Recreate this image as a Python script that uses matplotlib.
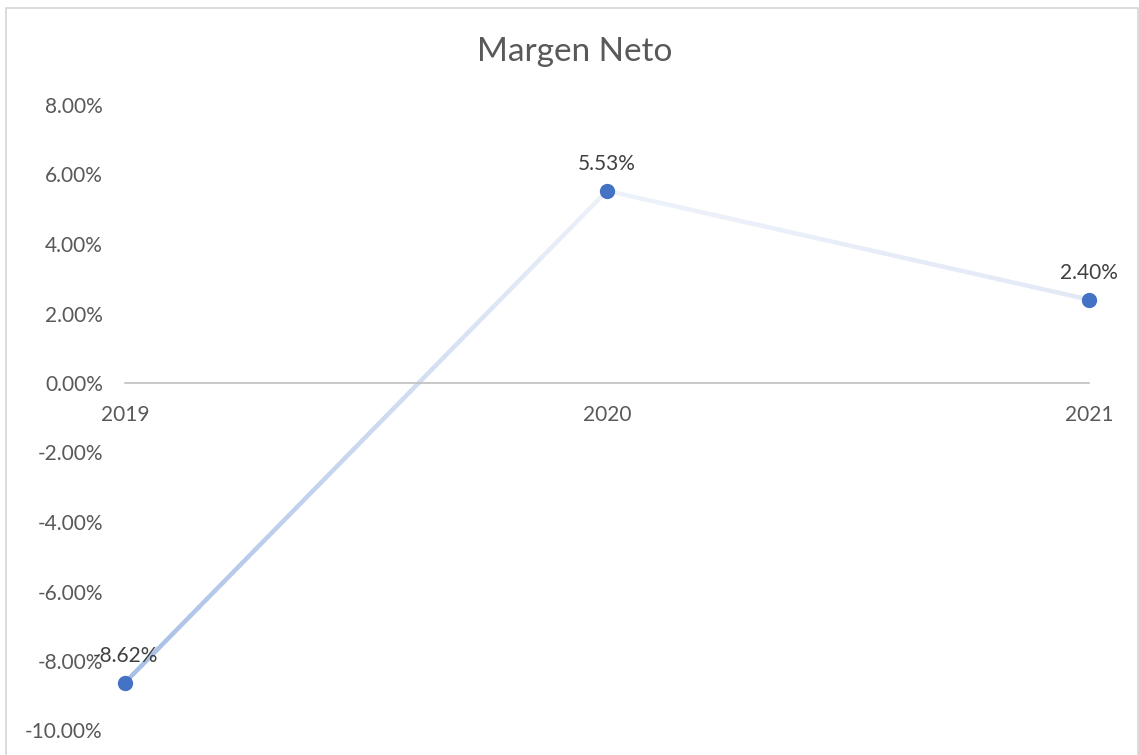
import numpy as np
import matplotlib.pyplot as plt
from matplotlib.collections import LineCollection
from matplotlib.patches import Rectangle

years = ['2019', '2020', '2021']
margen = [-8.62, 5.53, 2.40]
labels = ['-8.62%', '5.53%', '2.40%']
yticks = [-10, -8, -6, -4, -2, 0, 2, 4, 6, 8]

txt = '#595959'
plt.rcParams['font.family'] = ['Lato', 'DejaVu Sans']

fig = plt.figure(figsize=(11.39, 7.55), dpi=100)
fig.patches.append(Rectangle((6/1139, -0.01), 1132/1139, 1 - 8/755 + 0.01,
                             transform=fig.transFigure, fill=False,
                             edgecolor='#d9d9d9', linewidth=1.3))
ax = fig.add_axes([125/1139, 1 - 730.5/755, (1089 - 125)/1139, (730.5 - 105)/755])

x = np.arange(len(years))

# gradient line (Excel style), colours along the path
stops = [np.array([168, 191, 230]) / 255, np.array([238, 242, 250]) / 255,
         np.array([226, 233, 246]) / 255]
segs, cols = [], []
for i in range(len(x) - 1):
    t = np.linspace(0, 1, 60)
    xs = x[i] + (x[i + 1] - x[i]) * t
    ys = margen[i] + (margen[i + 1] - margen[i]) * t
    for j in range(len(t) - 1):
        segs.append([(xs[j], ys[j]), (xs[j + 1], ys[j + 1])])
        cols.append(stops[i] + (stops[i + 1] - stops[i]) * t[j])
lc = LineCollection(segs, colors=cols, linewidths=3.2, capstyle='round', zorder=2)
ax.add_collection(lc)
ax.plot(x, margen, 'o', color='#4472C4', markersize=10, zorder=3, clip_on=False)

for xi, yi, lab in zip(x, margen, labels):
    ax.annotate(lab, (xi, yi), xytext=(0, 12), textcoords='offset points',
                ha='center', va='bottom', fontsize=15, color='#404040')

ax.set_xlim(0, 2)
ax.set_ylim(-10, 8)
ax.set_yticks(yticks)
ax.set_yticklabels([f'{v:.2f}%' for v in yticks])
ax.set_xticks(x)
ax.set_xticklabels(years)
ax.tick_params(axis='y', length=0, pad=16, labelsize=15, labelcolor=txt)
ax.tick_params(axis='x', length=0, pad=16, labelsize=15, labelcolor=txt)
for s in ['top', 'right', 'left']:
    ax.spines[s].set_visible(False)
ax.spines['bottom'].set_position(('data', 0))
ax.spines['bottom'].set_color('#bfbfbf')
ax.spines['bottom'].set_linewidth(1.2)
ax.patch.set_alpha(0)

fig.text(575/1139, 1 - 52/755, 'Margen Neto', ha='center', va='center',
         fontsize=24, color=txt)

fig.savefig('out.png', dpi=100)
